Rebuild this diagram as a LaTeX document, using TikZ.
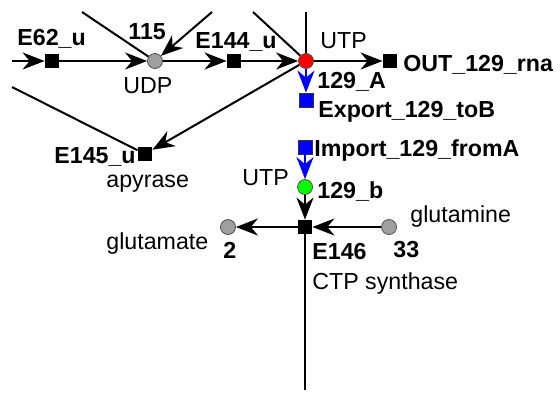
\documentclass[tikz,border=0pt]{standalone}
\usepackage{fontspec}
\setmainfont{Liberation Sans}
\usetikzlibrary{arrows.meta}
\tikzset{
  metab/.style  = {circle, draw=black!70, thin, fill=gray!75,
                   minimum size=7.5pt, inner sep=0pt},
  rxn/.style    = {rectangle, fill=black, minimum size=7pt, inner sep=0pt},
  xfer/.style   = {rxn, fill=blue, draw=black!80, thin},
  txt/.style    = {anchor=base west, inner sep=0pt},
  idtxt/.style  = {txt, font=\fontsize{11.6}{13}\selectfont\bfseries},
  flux/.style   = {draw, line width=1pt, -{Stealth[length=11pt, width=8.5pt, inset=3.5pt]}},
  link/.style   = {draw, line width=1pt}
}

\begin{document}
\begin{tikzpicture}
  [
    x                 = 0.5pt,
    y                 = -0.5pt,
    every node/.style = {font=\fontsize{11.6}{13}\selectfont}
  ]
 \useasboundingbox (0,0) rectangle (560,392);
 % species
 \node [metab] (udp) at (155,61) {};
 \node [metab, fill=red] (utpA) at (306,61) {};
 \node [metab, fill=green] (utpB) at (305,187) {};
 \node [metab] (glu) at (228,227) {};
 \node [metab] (gln) at (389,227) {};
 % reactions
 \node [rxn] (e62) at (52,61) {};
 \node [rxn] (e144) at (234,61) {};
 \node [rxn] (out) at (390,61) {};
 \node [rxn] (e145) at (145,154) {};
 \node [rxn] (e146) at (305,227) {};
 \node [xfer] (exp) at (306,100) {};
 \node [xfer] (imp) at (305,147) {};
 % loose ends
 \coordinate (inL) at (12,61);
 \coordinate (inE) at (12,87);
 \coordinate (topA) at (82,12);
 \coordinate (topB) at (212,12);
 \coordinate (topC) at (253,12);
 \coordinate (topD) at (306,12);
 \coordinate (botE) at (305,390);
 % labels
 \node [idtxt] (l62) at (17,45) {E62\_u};
 \node [idtxt] (l115) at (128,39) {115};
 \node [txt] (ludp) at (123,93) {UDP};
 \node [idtxt] (l144) at (195,48) {E144\_u};
 \node [txt] (lutpA) at (320,48) {UTP};
 \node [idtxt] (lA) at (317,88) {129\_A};
 \node [idtxt] (lout) at (403,71) {OUT\_129\_rna};
 \node [idtxt] (lexp) at (318,117) {Export\_129\_toB};
 \node [idtxt] (limp) at (314,156) {Import\_129\_fromA};
 \node [txt] (lutpB) at (242,185) {UTP};
 \node [idtxt] (lb) at (317,198) {129\_b};
 \node [txt] (lgln) at (410,222) {glutamine};
 \node [idtxt] (l33) at (393,257) {33};
 \node [txt] (lglu) at (106,249) {glutamate};
 \node [idtxt] (l2) at (223,258) {2};
 \node [idtxt] (l146) at (312,259) {E146};
 \node [txt] (lctp) at (312,289) {CTP synthase};
 \node [idtxt] (l145) at (54,163) {E145\_u};
 \node [txt] (lapy) at (106,187) {apyrase};
 % edges
 \draw [flux] (inL) -- (e62);
 \draw [flux] (e62) -- (udp);
 \draw [link] (topA) -- (udp);
 \draw [flux] (topB) -- (udp);
 \draw [flux] (udp) -- (e144);
 \draw [flux] (e144) -- (utpA);
 \draw [link] (topC) -- (utpA);
 \draw [link] (topD) -- (utpA);
 \draw [flux] (utpA) -- (out);
 \draw [flux] (utpA) -- (e145);
 \draw [link] (inE) -- (e145);
 \draw [flux, blue] (utpA) -- (exp);
 \draw [flux, blue] (imp) -- (utpB);
 \draw [flux] (utpB) -- (e146);
 \draw [flux] (e146) -- (glu);
 \draw [flux] (gln) -- (e146);
 \draw [link] (e146) -- (botE);
\end{tikzpicture}
\end{document}
